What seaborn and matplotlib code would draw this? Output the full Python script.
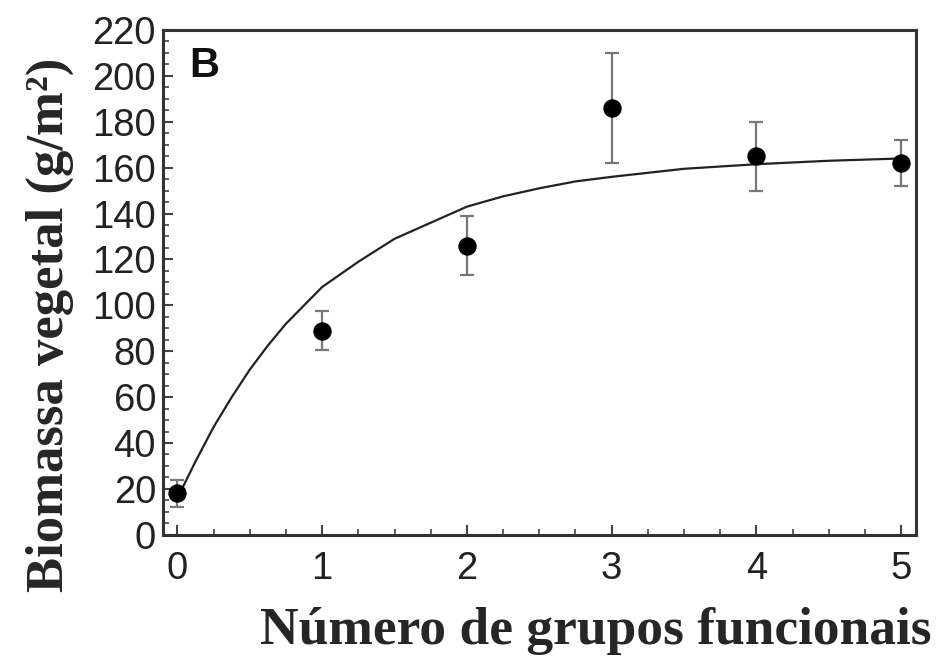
import numpy as np
import pandas as pd
import seaborn as sns
import matplotlib.pyplot as plt
from matplotlib.ticker import MultipleLocator

# data
grupos = [0, 1, 2, 3, 4, 5]
biomassa = [18, 89, 126, 186, 165, 162]
erro = [6, 8.5, 13, 24, 15, 10]

# fitted curve, values
curva_x = [0, 0.125, 0.25, 0.375, 0.5, 0.625, 0.75, 0.875, 1.0, 1.25, 1.5, 1.75,
           2.0, 2.25, 2.5, 2.75, 3.0, 3.5, 4.0, 4.5, 5.0]
curva_y = [16, 32, 47, 60, 72, 82.5, 92, 100, 108, 119, 129, 136,
           143, 147.5, 151, 154, 156, 159.5, 161.5, 163, 164]

df_pts = pd.DataFrame({'grupos': grupos, 'biomassa': biomassa, 'erro': erro})
df_curve = pd.DataFrame({'x': curva_x, 'y': curva_y})

sns.set_style("ticks")
plt.rcParams['font.family'] = ['Liberation Sans', 'DejaVu Sans']

fig = plt.figure(figsize=(9.42, 6.66), dpi=100)
ax = fig.add_axes([0.173, 0.197, 0.799, 0.758])

sns.lineplot(data=df_curve, x='x', y='y', ax=ax, color='#222222', linewidth=1.6)
ax.errorbar(df_pts['grupos'], df_pts['biomassa'], yerr=df_pts['erro'], fmt='none',
            ecolor='#777777', elinewidth=1.6, capsize=5, capthick=1.6, zorder=3)
sns.scatterplot(data=df_pts, x='grupos', y='biomassa', ax=ax, color='black',
                s=150, edgecolor='black', zorder=4)

ax.set_xlim(-0.1, 5.1)
ax.set_ylim(0, 220)
ax.xaxis.set_major_locator(MultipleLocator(1))
ax.xaxis.set_minor_locator(MultipleLocator(0.25))
ax.yaxis.set_major_locator(MultipleLocator(20))
ax.yaxis.set_minor_locator(MultipleLocator(5))
ax.tick_params(which='both', direction='in', colors='#444444', labelcolor='#222222',
               labelsize=27.5)
ax.tick_params(which='major', length=7, width=1.5)
ax.tick_params(which='minor', length=4, width=1.2)
ax.tick_params(axis='x', pad=12)
ax.tick_params(axis='y', pad=5)
for sp in ax.spines.values():
    sp.set_visible(True)
    sp.set_color('#333333')
    sp.set_linewidth(2.2)

ax.text(0.035, 0.968, 'B', transform=ax.transAxes, fontsize=30, fontweight='bold',
        va='top', ha='left', color='#111111')

ax.set_xlabel('Número de grupos funcionais', family=['Liberation Serif'],
              fontsize=38.5, fontweight='bold')
ax.xaxis.set_label_coords(0.575, -0.143)
ax.set_ylabel('Biomassa vegetal (g/m²)', family=['Liberation Serif'],
              fontsize=38, fontweight='bold')
ax.yaxis.set_label_coords(-0.118, 0.415)

fig.savefig('out.png', dpi=100)
